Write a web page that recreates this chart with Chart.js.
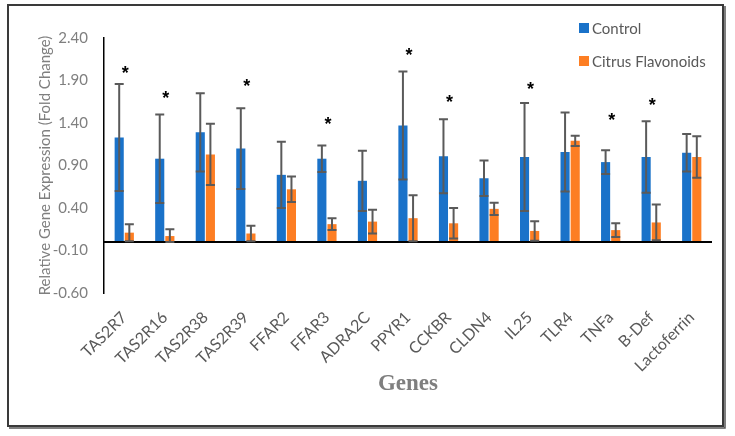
<!DOCTYPE html>
<html>
<head>
<meta charset="utf-8">
<script src="https://cdn.jsdelivr.net/npm/chart.js@4.4.1/dist/chart.umd.min.js"></script>
<style>
  html, body { margin: 0; padding: 0; background: #ffffff; }
  #wrap { position: relative; width: 735px; height: 436px; }
</style>
</head>
<body>
<div id="wrap"><canvas id="c" width="735" height="436"></canvas></div>
<script>
const categories = ['TAS2R7','TAS2R16','TAS2R38','TAS2R39','FFAR2','FFAR3','ADRA2C','PPYR1','CCKBR','CLDN4','IL25','TLR4','TNFa','B-Def','Lactoferrin'];
const controlValues = [1.23, 0.98, 1.29, 1.10, 0.79, 0.98, 0.72, 1.37, 1.01, 0.75, 1.00, 1.06, 0.94, 1.00, 1.05];
const controlErrors = [0.63, 0.52, 0.46, 0.475, 0.39, 0.155, 0.355, 0.635, 0.435, 0.21, 0.635, 0.465, 0.14, 0.42, 0.22];
const citrusValues = [0.11, 0.07, 1.03, 0.10, 0.62, 0.21, 0.24, 0.28, 0.22, 0.39, 0.13, 1.19, 0.14, 0.23, 1.00];
const citrusErrors = [0.10, 0.08, 0.36, 0.09, 0.15, 0.07, 0.14, 0.27, 0.18, 0.072, 0.115, 0.06, 0.08, 0.21, 0.245];
const asteriskY = [2.04, 1.75, null, 1.89, null, 1.435, null, 2.245, 1.70, null, 1.85, null, 1.49, 1.66, null];
const yTicks = [-0.60, -0.10, 0.40, 0.90, 1.40, 1.90, 2.40];
const yTickLabels = ['-0.60', '-0.10', '0.40', '0.90', '1.40', '1.90', '2.40'];
const seriesNames = ['Control', 'Citrus Flavonoids'];
const seriesColors = ['#1a72c9', '#fd7e23'];
const errorArrays = [controlErrors, citrusErrors];

const framePlugin = {
  id: 'frame',
  beforeDraw(chart) {
    const ctx = chart.ctx;
    ctx.save();
    ctx.fillStyle = '#ffffff';
    ctx.fillRect(0, 0, chart.width, chart.height);
    ctx.strokeStyle = '#3a3a3a';
    ctx.lineWidth = 2;
    ctx.strokeRect(8, 5, 715, 421);
    ctx.strokeStyle = '#555555';
    ctx.lineWidth = 1.5;
    ctx.beginPath();
    ctx.moveTo(725, 6); ctx.lineTo(725, 428); ctx.lineTo(9, 428);
    ctx.stroke();
    ctx.restore();
  }
};

const overlayPlugin = {
  id: 'overlay',
  afterDatasetsDraw(chart) {
    const ctx = chart.ctx;
    const y = chart.scales.y;
    const x = chart.scales.x;
    const area = chart.chartArea;
    ctx.save();
    // zero line
    const y0 = y.getPixelForValue(0);
    ctx.strokeStyle = '#000000';
    ctx.lineWidth = 1.8;
    ctx.beginPath();
    ctx.moveTo(area.left, y0);
    ctx.lineTo(area.right, y0);
    ctx.stroke();
    // error bars
    ctx.strokeStyle = '#5a5a5a';
    ctx.lineWidth = 2;
    chart.data.datasets.forEach((ds, di) => {
      const meta = chart.getDatasetMeta(di);
      const errs = errorArrays[di];
      meta.data.forEach((bar, i) => {
        const v = ds.data[i];
        const e = errs[i];
        const top = y.getPixelForValue(v + e);
        const bot = y.getPixelForValue(Math.max(v - e, 0));
        const half = 4.5;
        ctx.beginPath();
        ctx.moveTo(bar.x, top); ctx.lineTo(bar.x, bot);
        ctx.moveTo(bar.x - half, top); ctx.lineTo(bar.x + half, top);
        ctx.moveTo(bar.x - half, bot); ctx.lineTo(bar.x + half, bot);
        ctx.stroke();
      });
    });
    // asterisks
    ctx.fillStyle = '#000000';
    ctx.font = 'bold 18px "Liberation Sans", Arial, sans-serif';
    ctx.textAlign = 'center';
    ctx.textBaseline = 'alphabetic';
    asteriskY.forEach((v, i) => {
      if (v === null) return;
      const px = x.getPixelForValue(i) + 1;
      const py = y.getPixelForValue(v);
      ctx.fillText('*', px, py + 0.57 * 18);
    });
    // legend
    ctx.font = '15px Lato, sans-serif';
    ctx.textAlign = 'left';
    ctx.textBaseline = 'middle';
    const legendY = [28, 61];
    seriesNames.forEach((name, i) => {
      ctx.fillStyle = seriesColors[i];
      ctx.fillRect(579, legendY[i] - 5, 10, 10);
      ctx.fillStyle = '#595959';
      ctx.fillText(name, 592, legendY[i] + 1);
    });
    ctx.restore();
  }
};

new Chart(document.getElementById('c'), {
  type: 'bar',
  data: {
    labels: categories,
    datasets: [
      { label: seriesNames[0], data: controlValues, backgroundColor: seriesColors[0], borderWidth: 0, categoryPercentage: 0.5, barPercentage: 0.9 },
      { label: seriesNames[1], data: citrusValues, backgroundColor: seriesColors[1], borderWidth: 0, categoryPercentage: 0.5, barPercentage: 0.9 }
    ]
  },
  options: {
    responsive: false,
    animation: false,
    devicePixelRatio: 1,
    layout: { padding: { left: 0, right: 23, top: 38, bottom: 0 } },
    plugins: { legend: { display: false }, tooltip: { enabled: false } },
    scales: {
      x: {
        grid: { display: false, drawTicks: false },
        border: { display: false },
        ticks: {
          color: '#595959',
          font: { family: 'Lato', size: 16 },
          minRotation: 45,
          maxRotation: 45,
          padding: 15,
          autoSkip: false
        },
        title: {
          display: true,
          text: 'Genes',
          color: '#7f7f7f',
          font: { family: '"Liberation Serif", serif', size: 23, weight: 'bold' },
          padding: { top: 0, bottom: 38 }
        },
        afterFit(scale) { scale.height = 143; }
      },
      y: {
        min: -0.6,
        max: 2.4,
        grid: { display: false, drawTicks: false },
        border: { display: true, color: '#000000', width: 1.5 },
        afterBuildTicks(scale) { scale.ticks = yTicks.map(v => ({ value: v })); },
        ticks: {
          color: '#7f7f7f',
          font: { family: 'Lato', size: 15 },
          padding: 16,
          callback: (v, i) => yTickLabels[i]
        },
        title: {
          display: true,
          text: 'Relative Gene Expression (Fold Change)',
          color: '#7f7f7f',
          font: { family: 'Lato', size: 15 },
          padding: { top: 36, bottom: 0 }
        },
        afterFit(scale) { scale.width = 104; }
      }
    }
  },
  plugins: [framePlugin, overlayPlugin]
});
</script>
</body>
</html>
